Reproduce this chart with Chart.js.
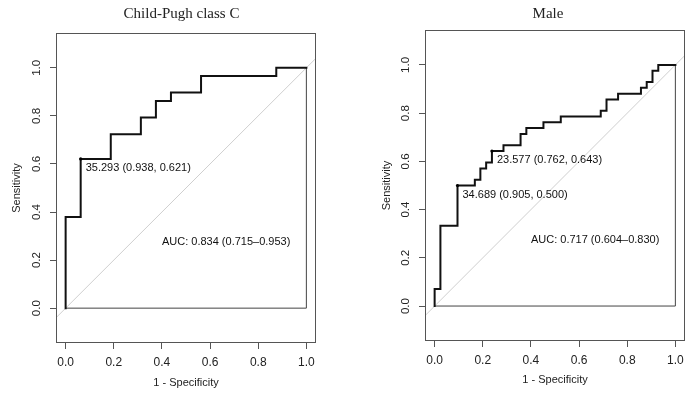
<!DOCTYPE html>
<html><head><meta charset="utf-8">
<script src="https://cdn.jsdelivr.net/npm/chart.js@4/dist/chart.umd.min.js"></script>
<style>
html,body{margin:0;padding:0;background:#fff;}
#wrap{position:relative;width:700px;height:398px;overflow:hidden;background:#fff;}
canvas{position:absolute;top:0;}
</style></head><body>
<div id="wrap">
<canvas id="c1" width="350" height="398" style="left:0px;width:350px;height:398px"></canvas>
<canvas id="c2" width="350" height="398" style="left:350px;width:350px;height:398px"></canvas>
</div>
<script>
// ---- data ----
const panelTitles = ["Child-Pugh class C", "Male"];
const tickValues = [0, 0.2, 0.4, 0.6, 0.8, 1.0];
const xRange = [-0.04, 1.04];
const yRange = [-0.145, 1.145];
const diagonalLine = [-0.2, 1.2];
const boundX = [0, 1, 1];
const boundY = [0, 0, 1];

// Child-Pugh class C ROC (1 - specificity, sensitivity)
const cpcFpr = [0, 0, 0.0625, 0.0625, 0.1875, 0.1875, 0.3125, 0.3125, 0.375, 0.375, 0.4375, 0.4375, 0.5625, 0.5625, 0.875, 0.875, 1.0];
const cpcTpr = [0, 0.379, 0.379, 0.621, 0.621, 0.724, 0.724, 0.793, 0.793, 0.862, 0.862, 0.897, 0.897, 0.966, 0.966, 1.0, 1.0];
const cpcCutFpr = [0.0625];
const cpcCutTpr = [0.621];
const cpcCutLabels = ["35.293 (0.938, 0.621)"];
const cpcAuc = "AUC: 0.834 (0.715\u20130.953)";

// Male ROC
const maleFpr = [0, 0, 0.024, 0.024, 0.095, 0.095, 0.167, 0.167, 0.190, 0.190, 0.214, 0.214, 0.238, 0.238, 0.286, 0.286, 0.357, 0.357, 0.381, 0.381, 0.452, 0.452, 0.524, 0.524, 0.690, 0.690, 0.714, 0.714, 0.762, 0.762, 0.857, 0.857, 0.881, 0.881, 0.905, 0.905, 0.929, 0.929, 1.0];
const maleTpr = [0, 0.071, 0.071, 0.333, 0.333, 0.500, 0.500, 0.524, 0.524, 0.571, 0.571, 0.595, 0.595, 0.643, 0.643, 0.667, 0.667, 0.714, 0.714, 0.738, 0.738, 0.762, 0.762, 0.786, 0.786, 0.810, 0.810, 0.857, 0.857, 0.881, 0.881, 0.905, 0.905, 0.929, 0.929, 0.976, 0.976, 1.0, 1.0];
const maleCutFpr = [0.095, 0.238];
const maleCutTpr = [0.500, 0.643];
const maleCutLabels = ["34.689 (0.905, 0.500)", "23.577 (0.762, 0.643)"];
const maleAuc = "AUC: 0.717 (0.604\u20130.830)";

const aucPos = [0.4, 0.275];

// ---- helpers ----
const zip = (xs, ys) => xs.map((x, i) => ({x: x, y: ys[i]}));
const SANS = "'Liberation Sans', Arial, sans-serif";
const SERIF = "'Liberation Serif', 'Times New Roman', serif";

const boxPlugin = {
  id: 'boxPlugin',
  afterDraw(chart, args, opts) {
    const a = chart.chartArea, ctx = chart.ctx;
    ctx.save();
    ctx.strokeStyle = '#555';
    ctx.lineWidth = 1;
    ctx.strokeRect(Math.round(a.left) + 0.5, Math.round(a.top) + 0.5, Math.round(a.right - a.left) - 1, Math.round(a.bottom - a.top) - 1);
    // title
    ctx.fillStyle = '#222';
    ctx.font = '15px ' + SERIF;
    ctx.textAlign = 'center';
    ctx.textBaseline = 'middle';
    ctx.fillText(opts.title, (a.left + a.right) / 2 + opts.titleDx, opts.titleY);
    // annotations
    const xs = chart.scales.x, ys = chart.scales.y;
    ctx.font = '11px ' + SANS;
    ctx.textAlign = 'left';
    ctx.fillStyle = '#111';
    opts.cutX.forEach((cx, i) => {
      ctx.fillText(opts.cutLabels[i], xs.getPixelForValue(cx) + 5, ys.getPixelForValue(opts.cutY[i]) + 9);
    });
    ctx.fillText(opts.auc, xs.getPixelForValue(aucPos[0]), ys.getPixelForValue(aucPos[1]));
    ctx.restore();
  }
};

function makeChart(id, cfg) {
  const tickFmt = v => Number(v).toFixed(1);
  return new Chart(document.getElementById(id), {
    type: 'scatter',
    data: {
      datasets: [
        {data: zip(cfg.cutX, cfg.cutY), showLine: false, pointRadius: 1.6, pointBackgroundColor: '#000', pointBorderWidth: 0, order: 0},
        {data: zip(cfg.fpr, cfg.tpr), showLine: true, borderColor: '#111', borderWidth: 2, pointRadius: 0, fill: false, order: 1, borderJoinStyle: 'miter', borderCapStyle: 'square'},
        {data: zip(boundX, boundY), showLine: true, borderColor: '#444', borderWidth: 1, pointRadius: 0, order: 2},
        {data: zip(diagonalLine, diagonalLine), showLine: true, borderColor: '#cfcfcf', borderWidth: 1, pointRadius: 0, order: 3, clip: 0}
      ]
    },
    options: {
      responsive: false,
      animation: false,
      devicePixelRatio: 1,
      layout: {padding: {top: cfg.padTop, right: cfg.padRight, left: 0, bottom: 0}},
      plugins: {
        legend: {display: false},
        tooltip: {enabled: false},
        boxPlugin: {title: cfg.title, titleDx: cfg.titleDx, titleY: 14, cutX: cfg.cutX, cutY: cfg.cutY, cutLabels: cfg.cutLabels, auc: cfg.auc}
      },
      scales: {
        x: {
          type: 'linear', min: xRange[0], max: xRange[1],
          afterBuildTicks: s => { s.ticks = tickValues.map(v => ({value: v})); },
          afterFit: s => { s.height = cfg.xAxisH; },
          grid: {display: true, drawOnChartArea: false, drawTicks: true, tickLength: 6, color: '#555'},
          border: {display: false},
          ticks: {callback: tickFmt, color: '#222', font: {family: SANS, size: 12}, padding: 6.5, autoSkip: false, maxRotation: 0},
          title: {display: true, text: '1 - Specificity', color: '#222', font: {family: SANS, size: 11}, padding: {top: 0, bottom: cfg.xTitlePad}}
        },
        y: {
          type: 'linear', min: yRange[0], max: yRange[1],
          afterBuildTicks: s => { s.ticks = tickValues.map(v => ({value: v})); },
          afterFit: s => { s.width = cfg.yAxisW; },
          grid: {display: true, drawOnChartArea: false, drawTicks: true, tickLength: 6, color: '#555'},
          border: {display: false},
          ticks: {callback: tickFmt, color: '#222', font: {family: SANS, size: 11.5}, padding: 5, autoSkip: false, minRotation: 90, maxRotation: 90, crossAlign: 'center'},
          title: {display: true, text: 'Sensitivity', color: '#222', font: {family: SANS, size: 11}, padding: {top: cfg.yTitlePad, bottom: 0}}
        }
      }
    },
    plugins: [boxPlugin]
  });
}

makeChart('c1', {
  title: panelTitles[0], titleDx: -4.5, padTop: 33, padRight: 34, xAxisH: 55, yAxisW: 56, xTitlePad: 8.4, yTitlePad: 10.7,
  fpr: cpcFpr, tpr: cpcTpr, cutX: cpcCutFpr, cutY: cpcCutTpr, cutLabels: cpcCutLabels, auc: cpcAuc
});
makeChart('c2', {
  title: panelTitles[1], titleDx: -7, padTop: 30, padRight: 15, xAxisH: 57, yAxisW: 75, xTitlePad: 11.4, yTitlePad: 30.1,
  fpr: maleFpr, tpr: maleTpr, cutX: maleCutFpr, cutY: maleCutTpr, cutLabels: maleCutLabels, auc: maleAuc
});
</script>
</body></html>
